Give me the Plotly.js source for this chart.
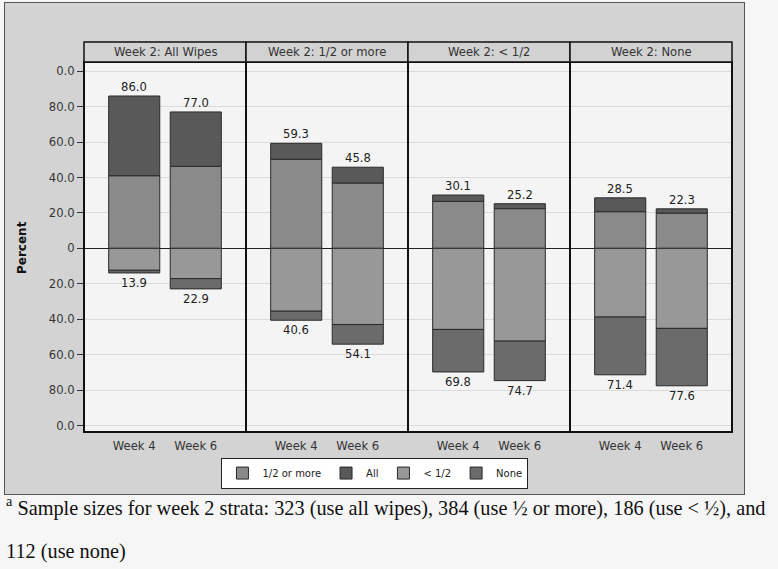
<!DOCTYPE html>
<html>
<head>
<meta charset="utf-8">
<script src="https://cdn.plot.ly/plotly-3.0.1.min.js"></script>
<style>
  html, body { margin:0; padding:0; background:#f6f6f6; }
  #frame { position:absolute; left:4px; top:2px; width:739px; height:491px; background:#d3d3d3; border:1px solid #555; }
  #chart { position:absolute; left:0; top:0; width:778px; height:569px; }
</style>
</head>
<body>
<div id="frame"></div>
<div id="chart"></div>
<script>
// ---- data ----
const categories = ['Week 4', 'Week 6'];
const panels = ['Week 2: All Wipes', 'Week 2: 1/2 or more', 'Week 2: < 1/2', 'Week 2: None'];
const seriesNames = ['1/2 or more', 'All', '< 1/2', 'None'];
// per panel: [Week 4, Week 6]
const halfOrMore = [[41.0, 46.3], [50.3, 36.9], [26.5, 22.4], [20.7, 19.9]];
const allWipes   = [[45.0, 30.7], [9.0, 8.9],   [3.6, 2.8],   [7.8, 2.4]];
const lessHalf   = [[12.4, 17.1], [35.5, 43.0], [45.8, 52.4], [38.8, 45.2]];
const noneUse    = [[1.5, 5.8],   [5.1, 11.1],  [24.0, 22.3], [32.6, 32.4]];
const yTickVals  = [100, 80, 60, 40, 20, 0, -20, -40, -60, -80, -100];
const yTickText  = ['0.0', '80.0', '60.0', '40.0', '20.0', '0', '20.0', '40.0', '60.0', '80.0', '0.0'];
const footLine1 = '<sup>a</sup> Sample sizes for week 2 strata: 323 (use all wipes), 384 (use \u00bd or more), 186 (use < \u00bd), and';
const footLine2 = '112 (use none)';

// ---- styling ----
const colors = ['#8a8a8a', '#595959', '#989898', '#6b6b6b'];
const signs = [1, 1, -1, -1];
const seriesData = [halfOrMore, allWipes, lessHalf, noneUse];
const FONT = 'DejaVu Sans';
const FS = 11.6;
const plotW = 648, plotH = 370;

const traces = [];
const shapes = [];
const annotations = [];
const layout = {
  width: 778, height: 569,
  margin: {l: 84, r: 46, t: 62, b: 137, pad: 0},
  barmode: 'relative',
  paper_bgcolor: 'rgba(0,0,0,0)',
  plot_bgcolor: '#f4f4f4',
  showlegend: true,
  font: {family: FONT, size: FS, color: '#333'},
  yaxis: {
    range: [-103.7, 105.2],
    tickvals: yTickVals, ticktext: yTickText,
    ticks: 'outside', ticklen: 6, tickcolor: '#333', tickwidth: 1,
    tickfont: {family: FONT, size: FS, color: '#333'},
    showgrid: true, gridcolor: '#dadada', gridwidth: 1,
    zeroline: true, zerolinecolor: '#222', zerolinewidth: 1,
    showline: false, fixedrange: true
  },
  legend: {
    orientation: 'h', x: 0.449, xanchor: 'center', y: -0.111, yanchor: 'middle',
    bgcolor: '#ffffff', bordercolor: '#222', borderwidth: 1,
    font: {family: FONT, size: 10, color: '#222'}, traceorder: 'normal',
    itemwidth: 30
  },
  shapes: shapes,
  annotations: annotations
};

panels.forEach((title, p) => {
  const xa = p === 0 ? 'x' : 'x' + (p + 1);
  const axKey = p === 0 ? 'xaxis' : 'xaxis' + (p + 1);
  const d0 = p / 4, d1 = (p + 1) / 4;
  layout[axKey] = {
    domain: [d0, d1], anchor: 'y', type: 'category',
    categoryorder: 'array', categoryarray: categories,
    range: [-0.816, 1.816], ticks: '', showgrid: false, showline: false, zeroline: false,
    ticklabelstandoff: 5,
    tickfont: {family: FONT, size: FS, color: '#333'}, fixedrange: true
  };
  seriesData.forEach((arr, s) => {
    traces.push({
      type: 'bar', x: categories, y: arr[p].map(v => signs[s] * v),
      xaxis: xa, yaxis: 'y', name: seriesNames[s], legendgroup: seriesNames[s],
      showlegend: p === 0, width: 0.83,
      marker: {color: colors[s], line: {color: '#2a2a2a', width: 1}},
      hoverinfo: 'skip'
    });
  });
  categories.forEach((c, i) => {
    const posTot = halfOrMore[p][i] + allWipes[p][i];
    const negTot = lessHalf[p][i] + noneUse[p][i];
    annotations.push({xref: xa, yref: 'y', x: i, y: posTot, yshift: 9, xanchor: 'center', yanchor: 'middle',
      showarrow: false, text: posTot.toFixed(1), font: {family: FONT, size: FS, color: '#222'}});
    annotations.push({xref: xa, yref: 'y', x: i, y: -negTot, yshift: -10, xanchor: 'center', yanchor: 'middle',
      showarrow: false, text: negTot.toFixed(1), font: {family: FONT, size: FS, color: '#222'}});
  });
  // panel border
  shapes.push({type: 'rect', xref: 'paper', yref: 'paper', x0: d0, x1: d1, y0: 0, y1: 1,
    line: {color: '#111', width: 2}, fillcolor: 'rgba(0,0,0,0)', layer: 'above'});
  // strip
  shapes.push({type: 'rect', xref: 'paper', yref: 'paper', x0: d0, x1: d1, y0: 1, y1: 1 + 20 / plotH,
    line: {color: '#111', width: 1.5}, fillcolor: '#d2d2d2', layer: 'above'});
  annotations.push({xref: 'paper', yref: 'paper', x: (d0 + d1) / 2, y: 1 + 10 / plotH,
    xanchor: 'center', yanchor: 'middle', showarrow: false, text: title,
    font: {family: FONT, size: FS, color: '#333'}});
});

// y-axis title
annotations.push({xref: 'paper', yref: 'paper', x: -62 / plotW, y: (432 - 248) / plotH,
  xanchor: 'center', yanchor: 'middle', showarrow: false, textangle: -90, text: '<b>Percent</b>',
  font: {family: FONT, size: 12, color: '#111'}});
// footnote
annotations.push({xref: 'paper', yref: 'paper', x: -80 / plotW, y: (432 - 506) / plotH,
  xanchor: 'left', yanchor: 'middle', showarrow: false, align: 'left', text: footLine1,
  font: {family: 'Liberation Serif', size: 20.3, color: '#111'}});
annotations.push({xref: 'paper', yref: 'paper', x: -80 / plotW, y: (432 - 551) / plotH,
  xanchor: 'left', yanchor: 'middle', showarrow: false, align: 'left', text: footLine2,
  font: {family: 'Liberation Serif', size: 20.3, color: '#111'}});

Plotly.newPlot('chart', traces, layout, {staticPlot: true, displayModeBar: false});
</script>
</body>
</html>
